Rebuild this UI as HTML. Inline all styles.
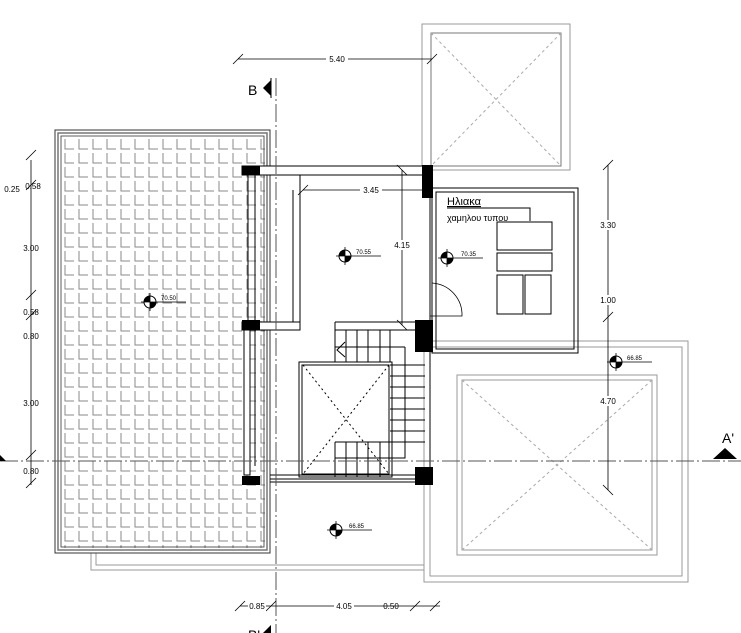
<!DOCTYPE html><html><head><style>body{margin:0;background:#fff}svg{display:block}text{font-family:"Liberation Sans",sans-serif;fill:#000}</style></head><body>
<svg width="741" height="633" viewBox="0 0 741 633" xmlns="http://www.w3.org/2000/svg">
<defs>
<pattern id="t" x="62" y="137" width="14" height="14" patternUnits="userSpaceOnUse"><path d="M3 2V12H12" fill="none" stroke="#888" stroke-width="1"/></pattern>
<g id="el"><circle r="6" fill="#fff" stroke="#000"/><path d="M0 0H6A6 6 0 0 1 0 6Z M0 0H-6A6 6 0 0 1 0 -6Z" fill="#000"/><path d="M-9 0H36M0 -9V9" stroke="#000" stroke-width="0.8"/></g>
</defs>
<g fill="none" stroke="#999">
<rect x="422" y="24" width="148" height="146"/><rect x="431" y="33" width="130" height="133" stroke="#777"/>
<path d="M431 33L561 166M561 33L431 166" stroke-dasharray="3 3" stroke="#aaa"/>
<rect x="424" y="341" width="264" height="241"/><rect x="430" y="347" width="252" height="229"/>
<rect x="457" y="375" width="200" height="180"/><rect x="462" y="380" width="190" height="170"/>
<path d="M462 380L652 550M652 380L462 550" stroke-dasharray="3 3" stroke="#aaa"/>
<path d="M91 553V570H424M96 553V565H424"/>
</g>
<rect x="62" y="137" width="203" height="411" fill="url(#t)"/>
<rect x="55" y="130" width="215" height="423" fill="none" stroke="#333" stroke-width="1"/>
<rect x="58" y="133" width="209" height="417" fill="none" stroke="#777" stroke-width="1.5"/>
<rect x="61" y="136" width="203" height="411" fill="none" stroke="#333" stroke-width="0.8"/>
<g stroke="#000" fill="none" stroke-width="1">
<rect x="242" y="166" width="190" height="9" fill="#fff"/>
<path d="M300 175V330H242M293 190V322M248 175V466M255 175V466"/>
<rect x="242" y="322" width="58" height="8" fill="#fff"/>
<rect x="244" y="330" width="6" height="145" fill="#fff"/>
<path d="M430 175V476M335 322H415M335 322V330H420"/>
<rect x="432" y="188" width="146" height="165"/><rect x="436" y="192" width="138" height="157"/>
<rect x="497" y="222" width="55" height="28"/><rect x="497" y="253" width="55" height="18"/><rect x="497" y="275" width="26" height="39"/><rect x="525" y="275" width="26" height="39"/>
<path d="M447 208H530V221"/>
<path d="M432 283A32 32 0 0 1 462 316H430" stroke-width="0.8"/>
<rect x="299" y="362" width="93" height="115"/><rect x="302" y="365" width="87" height="109"/>
<path d="M335 330V362M346 330V362M357 330V362M368 330V362M380 330V362M390 330V362M335 347H390"/>
<path d="M390 365H425M390 376H425M390 387H425M390 398H425M390 409H425M390 420H425M390 431H425M390 442H425M405 347V458H390M390 347H405"/>
<path d="M335 442H390M335 442V477M346 442V477M357 442V477M368 442V477M380 442V477M335 458H390"/>
<path d="M345 342L337 350L345 357"/>
<path d="M270 475H423M270 479H423M270 482H423"/>
<path d="M303 365L389 474M389 365L303 474" stroke-dasharray="2 3"/>
</g>
<g fill="#000"><rect x="242" y="166" width="18" height="9"/><rect x="422" y="165" width="11" height="33"/><rect x="242" y="320" width="18" height="10"/><rect x="415" y="320" width="18" height="32"/><rect x="242" y="476" width="18" height="9"/><rect x="415" y="467" width="18" height="18"/></g>
<g stroke="#555" stroke-width="1" stroke-dasharray="18 3 2 3"><path d="M276 78V633"/><path d="M0 461H741"/></g>
<g stroke="#000" stroke-width="0.8" fill="none">
<path d="M31 160V485M26 160L36 150M26 190L36 180M26 300L36 290M26 320L36 310M26 460L36 450M26 488L36 478"/>
<path d="M238 59H432M233 64L243 54M427 64L437 54"/>
<path d="M303 190H423M298 195L308 185"/>
<path d="M402 170V325M397 165L407 175M397 320L407 330"/>
<path d="M608 165V490M603 170L613 160M603 322L613 312M603 485L613 495"/>
<path d="M240 606H440M235 611L245 601M266 611L276 601M410 611L420 601M430 611L440 601"/>
</g>
<g font-size="8" text-anchor="middle"><rect x="326" y="54" width="22" height="10" fill="#fff"/><text x="337" y="62">5.40</text>
<rect x="360" y="185" width="22" height="10" fill="#fff"/><text x="371" y="193">3.45</text>
<rect x="392" y="240" width="20" height="10" fill="#fff"/><text x="402" y="248">4.15</text>
<text x="12" y="192">0.25</text><text x="33" y="189">0.58</text><text x="31" y="251">3.00</text><text x="31" y="315">0.58</text><text x="31" y="339">0.80</text><text x="31" y="406">3.00</text><text x="31" y="474">0.80</text>
<rect x="598" y="220" width="20" height="10" fill="#fff"/><text x="608" y="228">3.30</text>
<rect x="598" y="295" width="20" height="10" fill="#fff"/><text x="608" y="303">1.00</text>
<rect x="598" y="396" width="20" height="10" fill="#fff"/><text x="608" y="404">4.70</text>
<rect x="248" y="601" width="18" height="10" fill="#fff"/><text x="257" y="609">0.85</text>
<rect x="334" y="601" width="20" height="10" fill="#fff"/><text x="344" y="609">4.05</text>
<text x="391" y="609">0.50</text></g>
<use href="#el" x="150" y="302"/><use href="#el" x="345" y="256"/><use href="#el" x="447" y="258"/><use href="#el" x="616" y="362"/><use href="#el" x="336" y="530"/>
<g font-size="6"><text x="161" y="300">70.50</text><text x="356" y="254">70.55</text><text x="461" y="256">70.35</text><text x="627" y="360">66.85</text><text x="349" y="528">66.85</text></g>
<text x="447" y="205" font-size="11" text-decoration="underline">Ηλιακα</text>
<text x="447" y="221" font-size="9">χαμηλου τυπου</text>
<text x="248" y="95" font-size="14">B</text><path d="M263 88L271 80V96Z" fill="#000"/><path d="M271 78V98" stroke="#000"/>
<text x="722" y="443" font-size="14">A'</text><path d="M713 459L725 448L737 459Z" fill="#000"/>
<path d="M0 455L6 461H0Z" fill="#000"/>
<text x="248" y="640" font-size="14">B'</text><path d="M263 633L271 625V633Z" fill="#000"/>
</svg></body></html>
